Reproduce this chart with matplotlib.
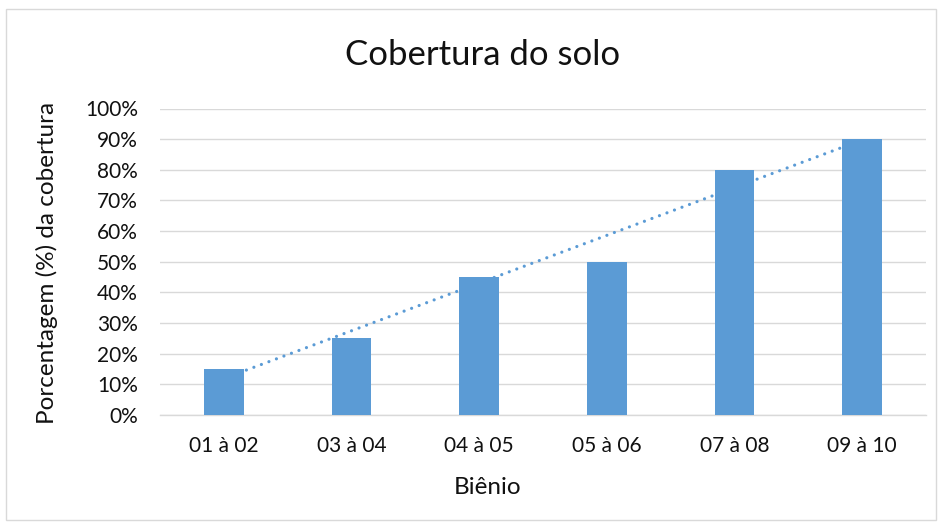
import numpy as np
import matplotlib
matplotlib.use("Agg")
import matplotlib.pyplot as plt
from matplotlib.patches import Rectangle

categories = ["01 à 02", "03 à 04", "04 à 05", "05 à 06", "07 à 08", "09 à 10"]
values = [15, 25, 45, 50, 80, 90]
yticks = [0, 10, 20, 30, 40, 50, 60, 70, 80, 90, 100]

plt.rcParams['font.family'] = ['Lato', 'DejaVu Sans']

W, H = 942, 525
fig = plt.figure(figsize=(W / 100, H / 100), dpi=100)
fig.patch.set_facecolor("white")
# chart border
fig.patches.append(Rectangle((6 / W, 5 / H), (936 - 6) / W, (516 - 5) / H,
                             transform=fig.transFigure, fill=False,
                             edgecolor="#D9D9D9", linewidth=1.0))

left, right, top, bottom = 160, 926, 108.5, 415
ax = fig.add_axes([left / W, 1 - bottom / H, (right - left) / W, (bottom - top) / H])

x = np.arange(len(categories))
bar_color = "#5B9BD5"
ax.bar(x, values, width=0.31, color=bar_color, zorder=3)

# linear trend line
coef = np.polyfit(x, values, 1)
ax.plot(x, np.polyval(coef, x), linestyle=(0, (0.01, 2.5)), color=bar_color,
        linewidth=2.3, dash_capstyle="round", zorder=2)

ax.set_xlim(-0.5, len(categories) - 0.5)
ax.set_ylim(0, 100)
ax.set_yticks(yticks)
ax.set_yticklabels([f"{v}%" for v in yticks])
ax.set_xticks(x)
ax.set_xticklabels(categories)
ax.yaxis.grid(True, color="#D9D9D9", linewidth=1.0, zorder=0)
ax.set_axisbelow(True)
for s in ["top", "right", "left"]:
    ax.spines[s].set_visible(False)
ax.spines["bottom"].set_color("#D9D9D9")
ax.spines["bottom"].set_linewidth(1.0)
ax.tick_params(axis="both", length=0, labelsize=15, colors="#111111")
ax.tick_params(axis="x", pad=15)
ax.tick_params(axis="y", pad=16)

fig.text(483 / W, 1 - 55 / H, "Cobertura do solo", ha="center", va="center",
         fontsize=25, color="#111111")
fig.text(488 / W, 1 - 488 / H, "Biênio", ha="center", va="center",
         fontsize=17.5, color="#111111")
fig.text(47 / W, 1 - 263 / H, "Porcentagem (%) da cobertura", ha="center",
         va="center", rotation=90, fontsize=17.5, color="#111111")

fig.savefig("out.png", dpi=100, facecolor="white")
